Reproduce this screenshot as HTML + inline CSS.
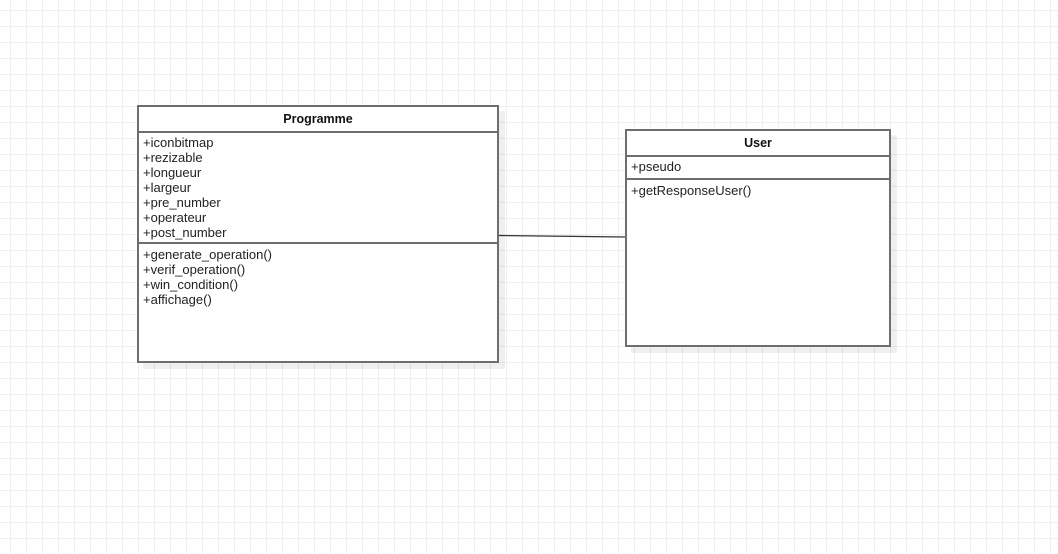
<!DOCTYPE html>
<html><head><style>
body{margin:0;width:1058px;height:554px;overflow:hidden;background-color:#fff;
background-image:linear-gradient(to right,#efefef 1px,transparent 1px),linear-gradient(to bottom,#efefef 1px,transparent 1px);
background-size:16px 16px;background-position:10px 10px;font-family:"Liberation Sans",sans-serif;position:relative}
.box{position:absolute;background:#fff;border:2px solid #6e6e6e;box-sizing:border-box;box-shadow:6px 6px 0 rgba(0,0,0,0.06)}
.hd{font-weight:bold;font-size:12.5px;text-align:center;border-bottom:2px solid #6e6e6e;box-sizing:border-box;color:#111}
.sec{font-size:13px;line-height:15px;padding:2px 0 0 4px;color:#222}
</style></head><body>
<svg style="position:absolute;left:0;top:0" width="1058" height="554"><line x1="498" y1="235.5" x2="626" y2="237" stroke="#333" stroke-width="1.2"/></svg>
<div class="box" style="left:137px;top:105px;width:362px;height:258px">
<div class="hd" style="height:26px;line-height:24px">Programme</div>
<div class="sec" style="height:111px;border-bottom:2px solid #6e6e6e;box-sizing:border-box;padding-top:2px">+iconbitmap<br>+rezizable<br>+longueur<br>+largeur<br>+pre_number<br>+operateur<br>+post_number</div>
<div class="sec" style="padding-top:3px">+generate_operation()<br>+verif_operation()<br>+win_condition()<br>+affichage()</div>
</div>
<div class="box" style="left:625px;top:129px;width:266px;height:218px">
<div class="hd" style="height:26px;line-height:24px">User</div>
<div class="sec" style="height:23px;border-bottom:2px solid #6e6e6e;box-sizing:border-box;padding-top:2px">+pseudo</div>
<div class="sec" style="padding-top:3px">+getResponseUser()</div>
</div>
</body></html>
